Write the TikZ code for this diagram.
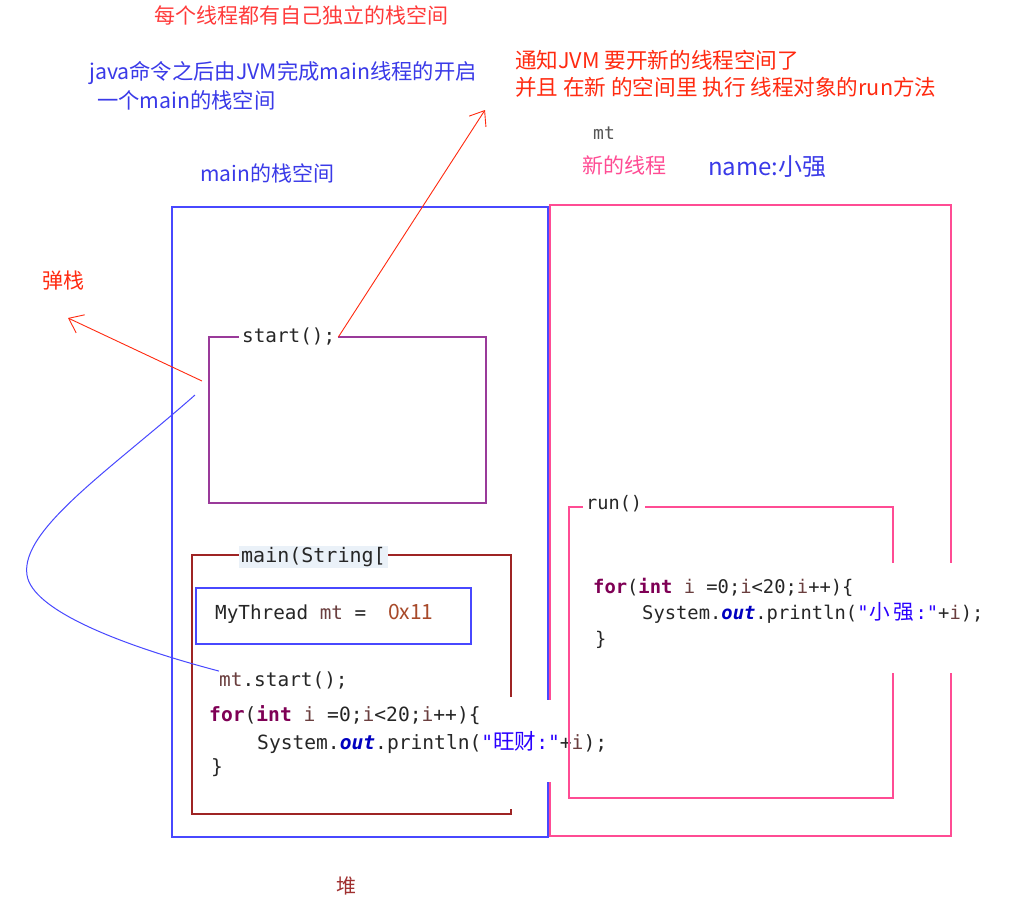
\documentclass[tikz,border=0pt]{standalone}
\usepackage{fontspec}
\setmainfont{Noto Sans CJK SC}
\setmonofont{DejaVu Sans Mono}
\newfontfamily\cjkcode{Noto Sans CJK SC}[Scale=1.1]
\usetikzlibrary{arrows.meta}
\definecolor{titlered}{HTML}{FF3B3B}
\definecolor{notered}{HTML}{FF2A10}
\definecolor{txtblue}{HTML}{3A3AE8}
\definecolor{boxblue}{HTML}{4848FF}
\definecolor{pinkc}{HTML}{FF4C94}
\definecolor{purplec}{HTML}{9A3A9A}
\definecolor{darkredc}{HTML}{9E2424}
\definecolor{kw}{HTML}{7F0055}
\definecolor{lvar}{HTML}{6A3E3E}
\definecolor{strc}{HTML}{2A00FF}
\definecolor{fieldc}{HTML}{0000C0}
\definecolor{codetxt}{HTML}{262626}
\definecolor{hexc}{HTML}{A84A2A}
\definecolor{heapc}{HTML}{A03030}
\definecolor{labelbg}{HTML}{EAF1F8}
\definecolor{graytxt}{HTML}{555555}
\newcommand\kwd[1]{\textcolor{kw}{\bfseries #1}}
\newcommand\lv[1]{\textcolor{lvar}{#1}}
\newcommand\fld[1]{\textcolor{fieldc}{\bfseries\itshape #1}}
\newcommand\strg[1]{\textcolor{strc}{#1}}
\newcommand\wch[1]{\makebox[23.5pt]{\cjkcode #1}}
\newcommand\fsz[1]{\fontsize{#1}{#1}\selectfont}
\begin{document}
\begin{tikzpicture}[x=1pt,y=-1pt,
  txt/.style={anchor=west,inner sep=0pt,font=\fsz{21}},
  code/.style={anchor=west,inner sep=0pt,text=codetxt,font=\ttfamily\fsz{19.6}},
  runcode/.style={code,font=\ttfamily\fsz{18.8}},
  redarrow/.style={draw=notered,line width=0.9pt,-{Straight Barb[length=13pt,width=20pt]}},
  bluecurve/.style={draw=boxblue,line width=1pt}]
\fill[white] (0,0) rectangle (1025,913);
\useasboundingbox (0,0) rectangle (1025,913);

% texts
\node[txt,text=titlered] (title) at (154,15) {每个线程都有自己独立的栈空间};
\node[txt,text=txtblue,font=\fsz{21.3}] (jvm1) at (89,73) {java命令之后由JVM完成main线程的开启};
\node[txt,text=txtblue,font=\fsz{21.3}] (jvm2) at (97,100) {一个main的栈空间};
\node[txt,text=txtblue] (mainstack) at (200,173) {main的栈空间};
\node[txt,text=notered,font=\fsz{21.6}] (note1) at (515,60) {通知JVM 要开新的线程空间了};
\node[txt,text=notered,font=\fsz{21.6}] (note2) at (515,87) {并且 在新 的空间里 执行 线程对象的run方法};
\node[anchor=west,inner sep=0pt,text=graytxt,font=\ttfamily\fsz{18}] (mtlbl) at (593,133) {mt};
\node[txt,text=pinkc] (newthr) at (582,165) {新的线程};
\node[txt,text=txtblue,font=\fsz{24}] (name) at (708,167) {name:小强};
\node[txt,text=notered] (popl) at (42,281) {弹栈};
\node[txt,text=heapc,font=\fsz{20}] (heap) at (336,886) {堆};

% big boxes
\draw[boxblue,line width=1.4pt] (172,207) rectangle (548,837);
\draw[pinkc,line width=1.4pt] (550,205) rectangle (951,836);

% start box
\draw[purplec,line width=1.1pt] (209,337) rectangle (486,503);
\node[code,fill=white,inner xsep=3pt,font=\ttfamily\fsz{19.3}] (startl) at (239,337) {start();};

% main box
\draw[darkredc,line width=1.1pt] (511,697) -- (511,555) -- (192,555) -- (192,814) -- (511,814) -- (511,809);
\node[code,fill=labelbg,inner xsep=2pt,inner ysep=1pt,font=\ttfamily\fsz{20}] (mainl) at (239,557) {main(String[};

% MyThread box
\draw[boxblue,line width=1.2pt] (196,588) rectangle (471,644);
\node[code,font=\ttfamily\fsz{19.3}] (mythr) at (215,614) {MyThread \lv{mt} =};
\node[anchor=west,inner sep=0pt,text=hexc,font=\fsz{21}] (hex) at (388,612) {0x11};

\node[code,font=\ttfamily\fsz{19.4}] (mtstart) at (219,680) {\lv{mt}.start();};

% main code (white patch)
\fill[white] (205,700) rectangle (620,782);
\node[code] (mc1) at (209,715) {\kwd{for}(\kwd{int} \lv{i} =0;\lv{i}<20;\lv{i}++)\{};
\node[code] (mc2) at (257,742) {System.\fld{out}.println(\strg{"{\cjkcode 旺财}:"}+\lv{i});};
\node[code] (mc3) at (211,768) {\}};

% run box
\draw[pinkc,line width=1.2pt] (569,507) rectangle (893,798);
\node[code,fill=white,inner xsep=3pt,font=\ttfamily\fsz{18.6}] (runl) at (583,504) {run()};

% run code (white patch)
\fill[white] (585,563) rectangle (1000,673);
\node[runcode] (rc1) at (593,587) {\kwd{for}(\kwd{int} \lv{i} =0;\lv{i}<20;\lv{i}++)\{};
\node[runcode] (rc2) at (642,613) {System.\fld{out}.println(\strg{"\wch{小}\wch{强}:"}+\lv{i});};
\node[runcode] (rc3) at (595,640) {\}};

% connectors
\coordinate (tipA) at (485,110);
\draw[redarrow] (startl.east) -- (tipA);
\coordinate (popfrom) at (202,381);
\coordinate (poptip) at (68,318);
\draw[redarrow] (popfrom) -- (poptip);
\coordinate (cfrom) at (195,395);
\coordinate (cleft) at (27,575);
\draw[bluecurve] (cfrom) .. controls (110,470) and (20,530) .. (cleft)
  .. controls (32,610) and (120,645) .. (mtstart.north west);
\end{tikzpicture}
\end{document}
